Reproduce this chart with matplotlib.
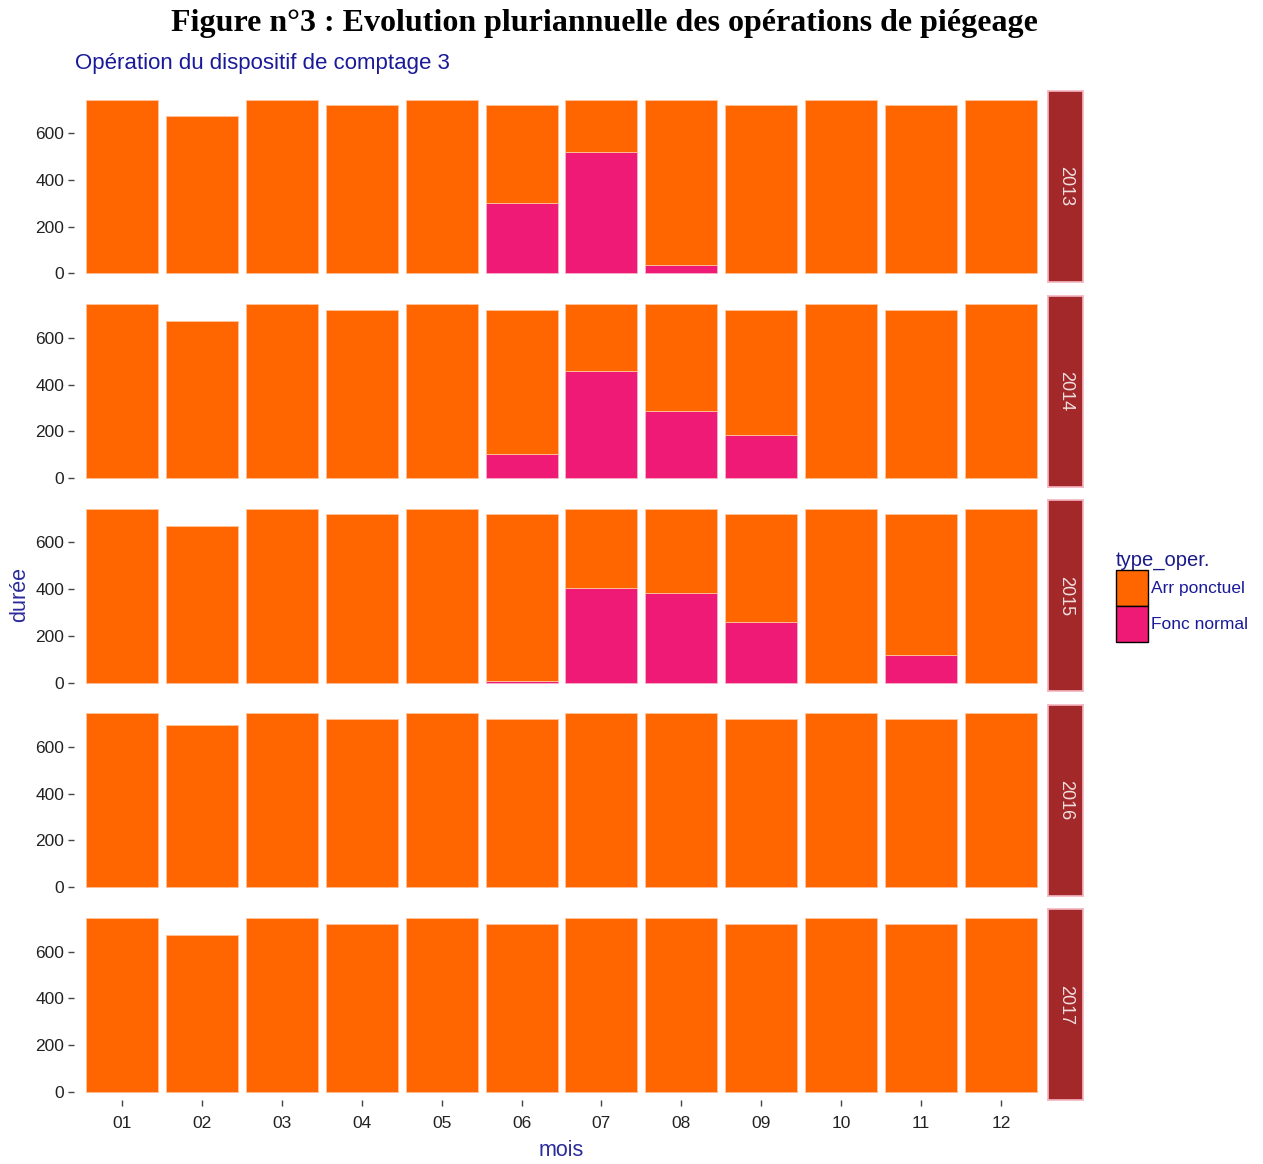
import matplotlib
matplotlib.use("Agg")
import matplotlib.pyplot as plt
from matplotlib.patches import Patch
import numpy as np

plt.rcParams['font.family'] = ['Liberation Sans', 'DejaVu Sans']

months = ["01", "02", "03", "04", "05", "06", "07", "08", "09", "10", "11", "12"]
years = ["2013", "2014", "2015", "2016", "2017"]

# total hours per month (duree) for each year
hours_std = [744, 672, 744, 720, 744, 720, 744, 744, 720, 744, 720, 744]
hours_leap = [744, 696, 744, 720, 744, 720, 744, 744, 720, 744, 720, 744]
totals = {
    "2013": hours_std,
    "2014": hours_std,
    "2015": hours_std,
    "2016": hours_leap,
    "2017": hours_std,
}

# hours in "Fonc normal" (the rest is "Arr ponctuel")
fonc_normal = {
    "2013": [0, 0, 0, 0, 0, 300, 520, 35, 0, 0, 0, 0],
    "2014": [0, 0, 0, 0, 0, 102, 460, 288, 184, 0, 0, 0],
    "2015": [0, 0, 0, 0, 0, 6, 404, 383, 260, 0, 117, 0],
    "2016": [0] * 12,
    "2017": [0] * 12,
}

col_arr = "#FF6600"
col_fonc = "#EE1A76"
col_strip = "#A3282A"
col_lab = "#2B2B9B"

W, H = 1263, 1164
fig = plt.figure(figsize=(W / 100, H / 100), dpi=100)

def px_axes(x0, y0, x1, y1):
    return fig.add_axes([x0 / W, 1 - y1 / H, (x1 - x0) / W, (y1 - y0) / H])

fig.text(604 / W, 1 - 23 / H, "Figure n°3 : Evolution pluriannuelle des opérations de piégeage",
         family="Liberation Serif", weight="bold", fontsize=23, ha="center", va="center")
fig.text(75 / W, 1 - 64 / H, "Opération du dispositif de comptage 3",
         color="#1A1A99", fontsize=16, ha="left", va="center")

x = np.arange(len(months))
left, right = 74, 1049
top0, ph, step = 91, 191, 204.6

for i, yr in enumerate(years):
    top = top0 + i * step
    ax = px_axes(left, top, right, top + ph)
    tot = np.array(totals[yr])
    fonc = np.array(fonc_normal[yr])
    arr = tot - fonc
    ax.bar(x, fonc, width=0.9, color=col_fonc, edgecolor="#F7B3C9", linewidth=0.6)
    ax.bar(x, arr, bottom=fonc, width=0.9, color=col_arr, edgecolor="#FFC49A", linewidth=0.6)
    ax.set_xlim(-0.6, len(months) - 0.4)
    ax.set_ylim(-37.2, 781.2)
    ax.set_yticks([0, 200, 400, 600])
    for s in ax.spines.values():
        s.set_visible(False)
    ax.tick_params(axis="y", length=4, width=1, color="#444444", labelsize=12.5,
                   labelcolor="#222222", pad=3)
    if i == len(years) - 1:
        ax.set_xticks(x)
        ax.set_xticklabels(months)
        ax.tick_params(axis="x", length=4, width=1, color="#444444", labelsize=12.5,
                       labelcolor="#222222", pad=7)
    else:
        ax.set_xticks([])

    # facet strip
    sax = px_axes(1048, top, 1083, top + ph)
    sax.set_facecolor(col_strip)
    sax.set_xticks([])
    sax.set_yticks([])
    for s in sax.spines.values():
        s.set_color("#F4B6C2")
        s.set_linewidth(1.2)
    sax.text(0.5, 0.5, yr, rotation=-90, ha="center", va="center", color="#F0E0E0",
             fontsize=13, transform=sax.transAxes)

fig.text(20 / W, 1 - 594 / H, "durée", rotation=90, color=col_lab, fontsize=15.5,
         ha="center", va="center")
fig.text(561 / W, 1 - 1151 / H, "mois", color=col_lab, fontsize=15.5, ha="center", va="center")

handles = [Patch(facecolor=col_arr, edgecolor="black", label="Arr ponctuel"),
           Patch(facecolor=col_fonc, edgecolor="black", label="Fonc normal")]
leg = fig.legend(handles=handles, title="type_oper.", loc="upper left",
                 bbox_to_anchor=(1109 / W, 1 - 544 / H), frameon=False,
                 fontsize=12.5, title_fontsize=14.5, handlelength=1.83, handleheight=2.8,
                 handletextpad=0.2, labelspacing=0.0, borderaxespad=0)
leg._legend_box.align = "left"
leg.get_title().set_color("#1A1A88")
for t in leg.get_texts():
    t.set_color("#1A1A99")

fig.savefig("out.png", dpi=100)
